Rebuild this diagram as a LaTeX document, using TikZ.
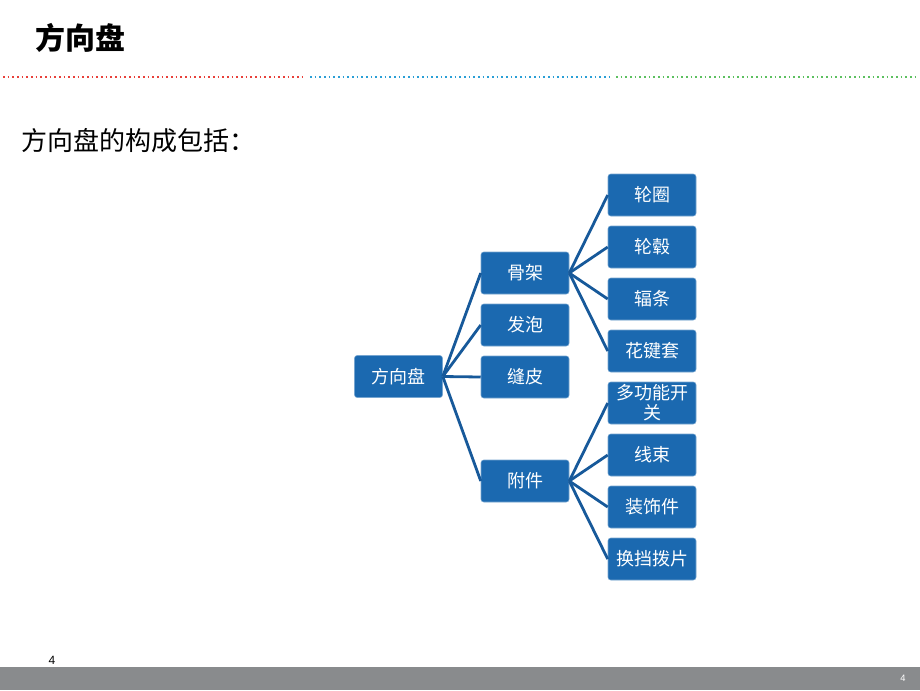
\documentclass[tikz,border=0pt]{standalone}
\usepackage{fontspec}
\setmainfont{Liberation Sans}
\newfontfamily\cjk{Noto Sans CJK SC}
\definecolor{boxblue}{HTML}{1B69B0}
\definecolor{lineblue}{HTML}{17599A}
\definecolor{dotred}{HTML}{E8403A}
\definecolor{dotblue}{HTML}{2A9FD6}
\definecolor{dotgreen}{HTML}{5CC060}
\definecolor{footgray}{HTML}{898B8D}
\tikzset{
  box/.style={draw=boxblue!60!white, line width=0.4pt, fill=boxblue, rounded corners=2pt,
    minimum width=66pt, minimum height=31.5pt, inner sep=0.5pt, text=white,
    font=\cjk\fontsize{13.5}{15}\selectfont, align=center},
  conn/.style={draw=lineblue, line width=2.1pt},
  dotline/.style={line width=1.3pt, dash pattern=on 1.2pt off 2.3pt}
}
\begin{document}
\begin{tikzpicture}[x=0.75pt,y=-0.75pt]
\useasboundingbox (0,0) rectangle (920,690);
% title
\node[anchor=west, font=\cjk\bfseries\fontsize{22.5}{25}\selectfont, inner sep=0pt] (title) at (35,38) {方向盘};
% dotted rule
\draw[dotline, dotred] (3,77) -- (303,77);
\draw[dotline, dotblue] (310,77) -- (610,77);
\draw[dotline, dotgreen] (616,77) -- (917,77);
% subtitle
\node[anchor=west, font=\cjk\fontsize{19.5}{21}\selectfont, inner sep=0pt] (sub) at (21,141) {方向盘的构成包括：};
% boxes
\node[box] (root) at (398.5,376.5) {方向盘};
\node[box] (gj) at (525,273) {骨架};
\node[box] (fp) at (525,325) {发泡};
\node[box] (fpi) at (525,377) {缝皮};
\node[box] (fj) at (525,481) {附件};
\node[box] (lq) at (652,195) {轮圈};
\node[box] (lg) at (652,247) {轮毂};
\node[box] (ft) at (652,299) {辐条};
\node[box] (hjt) at (652,351) {花键套};
\node[box, font=\cjk\fontsize{13.5}{15}\selectfont] (dgn) at (652,403) {多功能开\\关};
\node[box] (xs) at (652,455) {线束};
\node[box] (zsj) at (652,507) {装饰件};
\node[box] (hdbp) at (652,559) {换挡拨片};
% connectors
\foreach \c in {gj,fp,fpi,fj} \draw[conn] (root.east) -- (\c.west);
\foreach \c in {lq,lg,ft,hjt} \draw[conn] (gj.east) -- (\c.west);
\foreach \c in {dgn,xs,zsj,hdbp} \draw[conn] (fj.east) -- (\c.west);
% footer
\fill[footgray] (0,667) rectangle (920,690);
\node[font=\fontsize{9}{10}\selectfont, inner sep=0pt] (pn) at (52,660) {4};
\node[font=\fontsize{7}{8}\selectfont, text=white, inner sep=0pt] (pn2) at (903,678) {4};
\end{tikzpicture}
\end{document}
